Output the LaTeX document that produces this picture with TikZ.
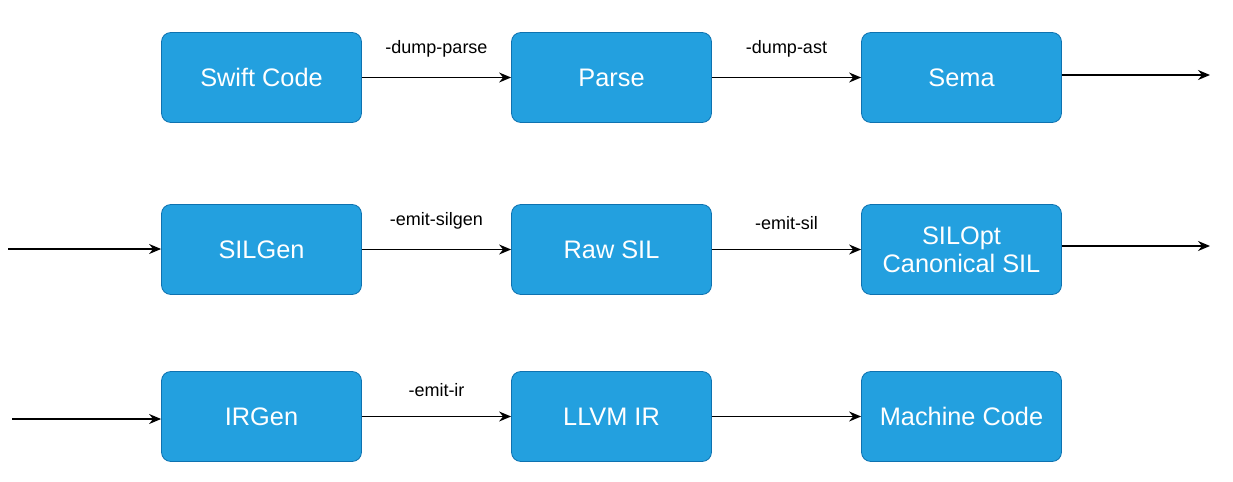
\documentclass[tikz,border=0pt]{standalone}
\usepackage{fontspec}
\setmainfont{Liberation Sans}
\usetikzlibrary{arrows.meta,positioning}
\definecolor{boxfill}{HTML}{23A0DF}
\definecolor{boxline}{HTML}{0E72B0}
\tikzset{
	stage/.style={draw=boxline,fill=boxfill,rounded corners=7pt,minimum width=150pt,minimum height=67.5pt,text=white,font=\fontsize{19}{21}\selectfont,align=center,line width=0.6pt},
	flow/.style={line width=1pt,-{Stealth[length=9pt,width=7.5pt,inset=3pt]}},
	opt/.style={font=\fontsize{13.5}{15}\selectfont,above=11pt}
}
\begin{document}
\begin{tikzpicture}[x=0.75pt,y=-0.75pt]
		\useasboundingbox (0,0) rectangle (1233,482);
		\node[stage] (swift) at (261.5,77.5) {Swift Code};
		\node[stage] (parse) at (611.5,77.5) {Parse};
		\node[stage] (sema) at (961.5,77.5) {Sema};
		\node[stage] (silgen) at (261.5,249.5) {SILGen};
		\node[stage] (rawsil) at (611.5,249.5) {Raw SIL};
		\node[stage] (silopt) at (961.5,249.5) {SILOpt\\Canonical SIL};
		\node[stage] (irgen) at (261.5,416.5) {IRGen};
		\node[stage] (llvmir) at (611.5,416.5) {LLVM IR};
		\node[stage] (machine) at (961.5,416.5) {Machine Code};
		\coordinate (semaout) at (1210,75);
		\coordinate (siloptout) at (1210,246);
		\coordinate (silgenin) at (8,249);
		\coordinate (irgenin) at (12,419);
		% first row
		\draw[flow] (swift.east) -- node[opt] {-dump-parse} (parse.west);
		\draw[flow] (parse.east) -- node[opt] {-dump-ast} (sema.west);
		\draw[flow] (sema.east |- semaout) -- (semaout);
		% second row
		\draw[flow] (silgenin) -- (silgen.west |- silgenin);
		\draw[flow] (silgen.east) -- node[opt] {-emit-silgen} (rawsil.west);
		\draw[flow] (rawsil.east) -- node[opt] {-emit-sil} (silopt.west);
		\draw[flow] (silopt.east |- siloptout) -- (siloptout);
		% third row
		\draw[flow] (irgenin) -- (irgen.west |- irgenin);
		\draw[flow] (irgen.east) -- node[opt] {-emit-ir} (llvmir.west);
		\draw[flow] (llvmir.east) -- (machine.west);
		\end{tikzpicture}
\end{document}
